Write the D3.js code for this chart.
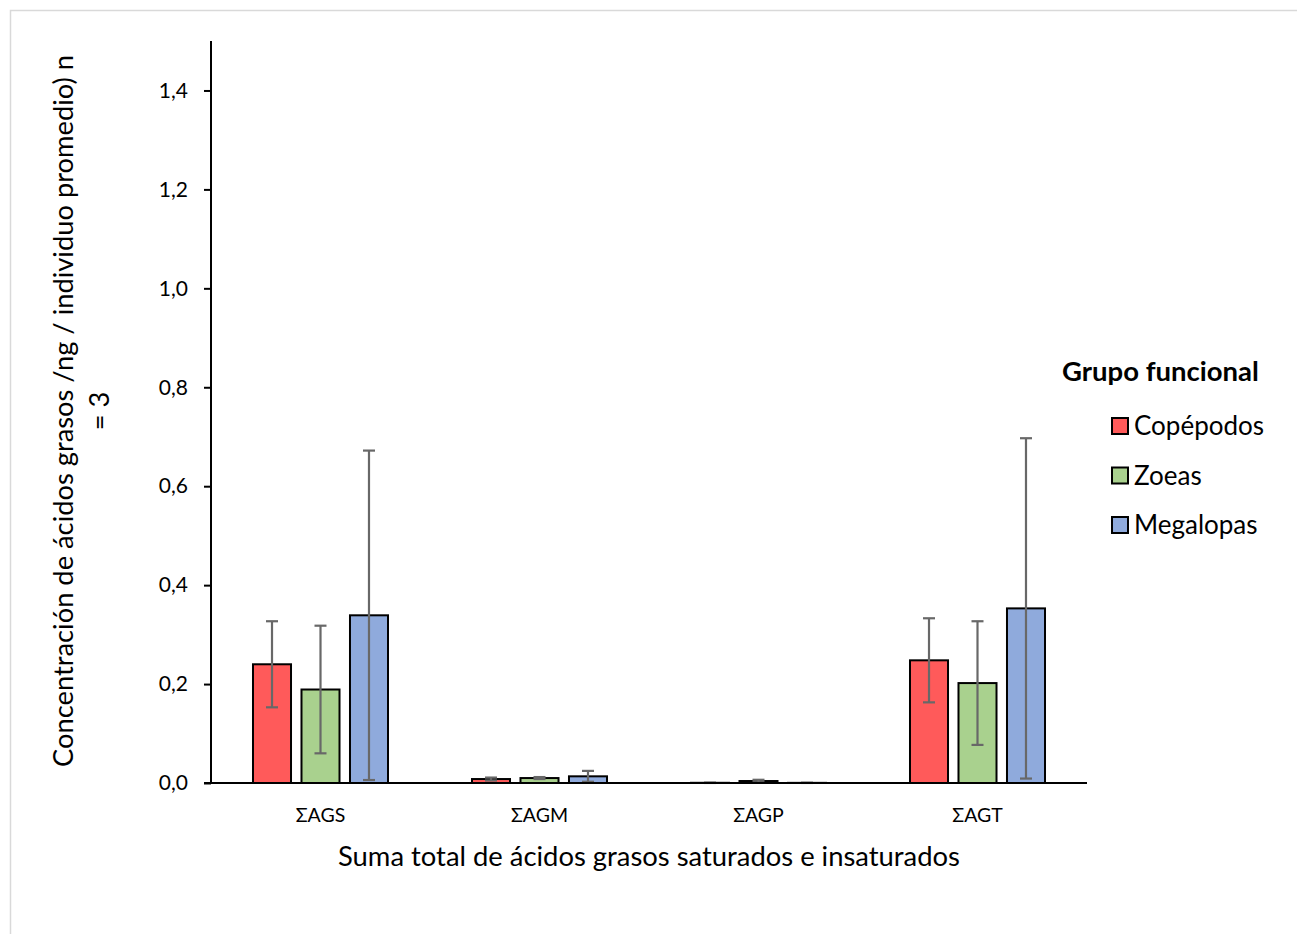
<!DOCTYPE html>
<html>
<head>
<meta charset="utf-8">
<script src="https://cdn.jsdelivr.net/npm/d3@7"></script>
<style>
  html, body { margin: 0; padding: 0; background: #fff; }
  svg { display: block; font-family: Lato, "Noto Sans", sans-serif; }
</style>
</head>
<body>
<svg id="chart" width="1297" height="934"></svg>
<script>
// Fatty acid sums per functional group (mean and standard deviation, n = 3)
const categories = ["ΣAGS", "ΣAGM", "ΣAGP", "ΣAGT"];
const groups = ["Copépodos", "Zoeas", "Megalopas"];
const colors = ["#FF5A5A", "#A9D18E", "#8FAADC"];

const copepodosMean = [0.240, 0.008, 0.0004, 0.248];
const copepodosSD   = [0.087, 0.003, 0.0003, 0.085];
const zoeasMean     = [0.189, 0.010, 0.004, 0.202];
const zoeasSD       = [0.129, 0.002, 0.0025, 0.125];
const megalopasMean = [0.339, 0.0135, 0.0003, 0.353];
const megalopasSD   = [0.333, 0.011, 0.0002, 0.344];

const yTicks = [0, 0.2, 0.4, 0.6, 0.8, 1.0, 1.2, 1.4];

const means = [copepodosMean, zoeasMean, megalopasMean];
const sds = [copepodosSD, zoeasSD, megalopasSD];

const rows = [];
categories.forEach((c, ci) => {
  groups.forEach((g, gi) => {
    rows.push({ cat: c, group: g, mean: means[gi][ci], sd: sds[gi][ci], color: colors[gi] });
  });
});

const svg = d3.select("#chart");

// outer chart frame
svg.append("rect")
  .attr("x", 10.5).attr("y", 10.5)
  .attr("width", 1300).attr("height", 940)
  .attr("fill", "none").attr("stroke", "#d9d9d9").attr("stroke-width", 1.5);

const plot = { left: 211, right: 1087, top: 41, bottom: 783 };

const x0 = d3.scaleBand().domain(categories).range([plot.left, plot.right]).padding(0);
const x1 = d3.scaleBand().domain(groups).range([0, x0.bandwidth()])
  .paddingInner(0.216).paddingOuter(0.866);
const y = d3.scaleLinear().domain([0, 1.5]).range([plot.bottom, plot.top]);

// bars
svg.append("g").selectAll("rect").data(rows).join("rect")
  .attr("x", d => x0(d.cat) + x1(d.group))
  .attr("y", d => y(d.mean))
  .attr("width", x1.bandwidth())
  .attr("height", d => y(0) - y(d.mean))
  .attr("fill", d => d.color)
  .attr("stroke", "#000").attr("stroke-width", 2);

// error bars
const eg = svg.append("g").attr("stroke", "#686868").attr("stroke-width", 2.2);
rows.forEach(d => {
  const cx = x0(d.cat) + x1(d.group) + x1.bandwidth() / 2;
  const lo = y(Math.max(0, d.mean - d.sd));
  const hi = y(d.mean + d.sd);
  eg.append("line").attr("x1", cx).attr("x2", cx).attr("y1", lo).attr("y2", hi);
  eg.append("line").attr("x1", cx - 6).attr("x2", cx + 6).attr("y1", hi).attr("y2", hi);
  eg.append("line").attr("x1", cx - 6).attr("x2", cx + 6).attr("y1", lo).attr("y2", lo);
});

// y axis
const yAxis = d3.axisLeft(y).tickValues(yTicks)
  .tickFormat(d => d3.format(".1f")(d).replace(".", ","))
  .tickSize(7).tickPadding(16);
const yg = svg.append("g").attr("transform", `translate(${plot.left},0)`).call(yAxis);
yg.select(".domain").attr("stroke", "#000").attr("stroke-width", 2)
  .attr("d", `M0,${plot.top}V${plot.bottom}`);
yg.selectAll(".tick line").attr("stroke", "#000").attr("stroke-width", 2);
yg.selectAll(".tick text").attr("font-size", 21).attr("fill", "#000")
  .attr("font-family", "Lato, 'Noto Sans', sans-serif");

// x axis
const xAxis = d3.axisBottom(x0).tickSize(0).tickPadding(25);
const xg = svg.append("g").attr("transform", `translate(0,${plot.bottom})`).call(xAxis);
xg.select(".domain").attr("stroke", "#000").attr("stroke-width", 2)
  .attr("d", `M${plot.left - 7},0H${plot.right}`);
xg.selectAll(".tick text").attr("font-size", 19.5).attr("fill", "#000")
  .attr("font-family", "Lato, 'Noto Sans', sans-serif");

// axis titles
svg.append("text")
  .attr("x", 649).attr("y", 866)
  .attr("text-anchor", "middle").attr("font-size", 27.4).attr("fill", "#000")
  .text("Suma total de ácidos grasos saturados e insaturados");

const yt = svg.append("text")
  .attr("transform", "translate(73,411) rotate(-90)")
  .attr("text-anchor", "middle").attr("font-size", 27.3).attr("fill", "#000");
yt.append("tspan").attr("x", 0).attr("y", 0).text("Concentración de ácidos grasos /ng / individuo promedio) n");
yt.append("tspan").attr("x", 0).attr("y", 36).text("= 3");

// legend
const lg = svg.append("g");
lg.append("text").attr("x", 1062).attr("y", 381)
  .attr("font-size", 27.5).attr("font-weight", "bold").attr("fill", "#000")
  .text("Grupo funcional");
const legendY = d3.scalePoint().domain(groups).range([426, 525]);
groups.forEach((g, i) => {
  const cy = legendY(g);
  lg.append("rect").attr("x", 1112).attr("y", cy - 8).attr("width", 16).attr("height", 16)
    .attr("fill", colors[i]).attr("stroke", "#000").attr("stroke-width", 2);
  lg.append("text").attr("x", 1134).attr("y", cy + 9)
    .attr("font-size", 26).attr("fill", "#000").text(g);
});
</script>
</body>
</html>
